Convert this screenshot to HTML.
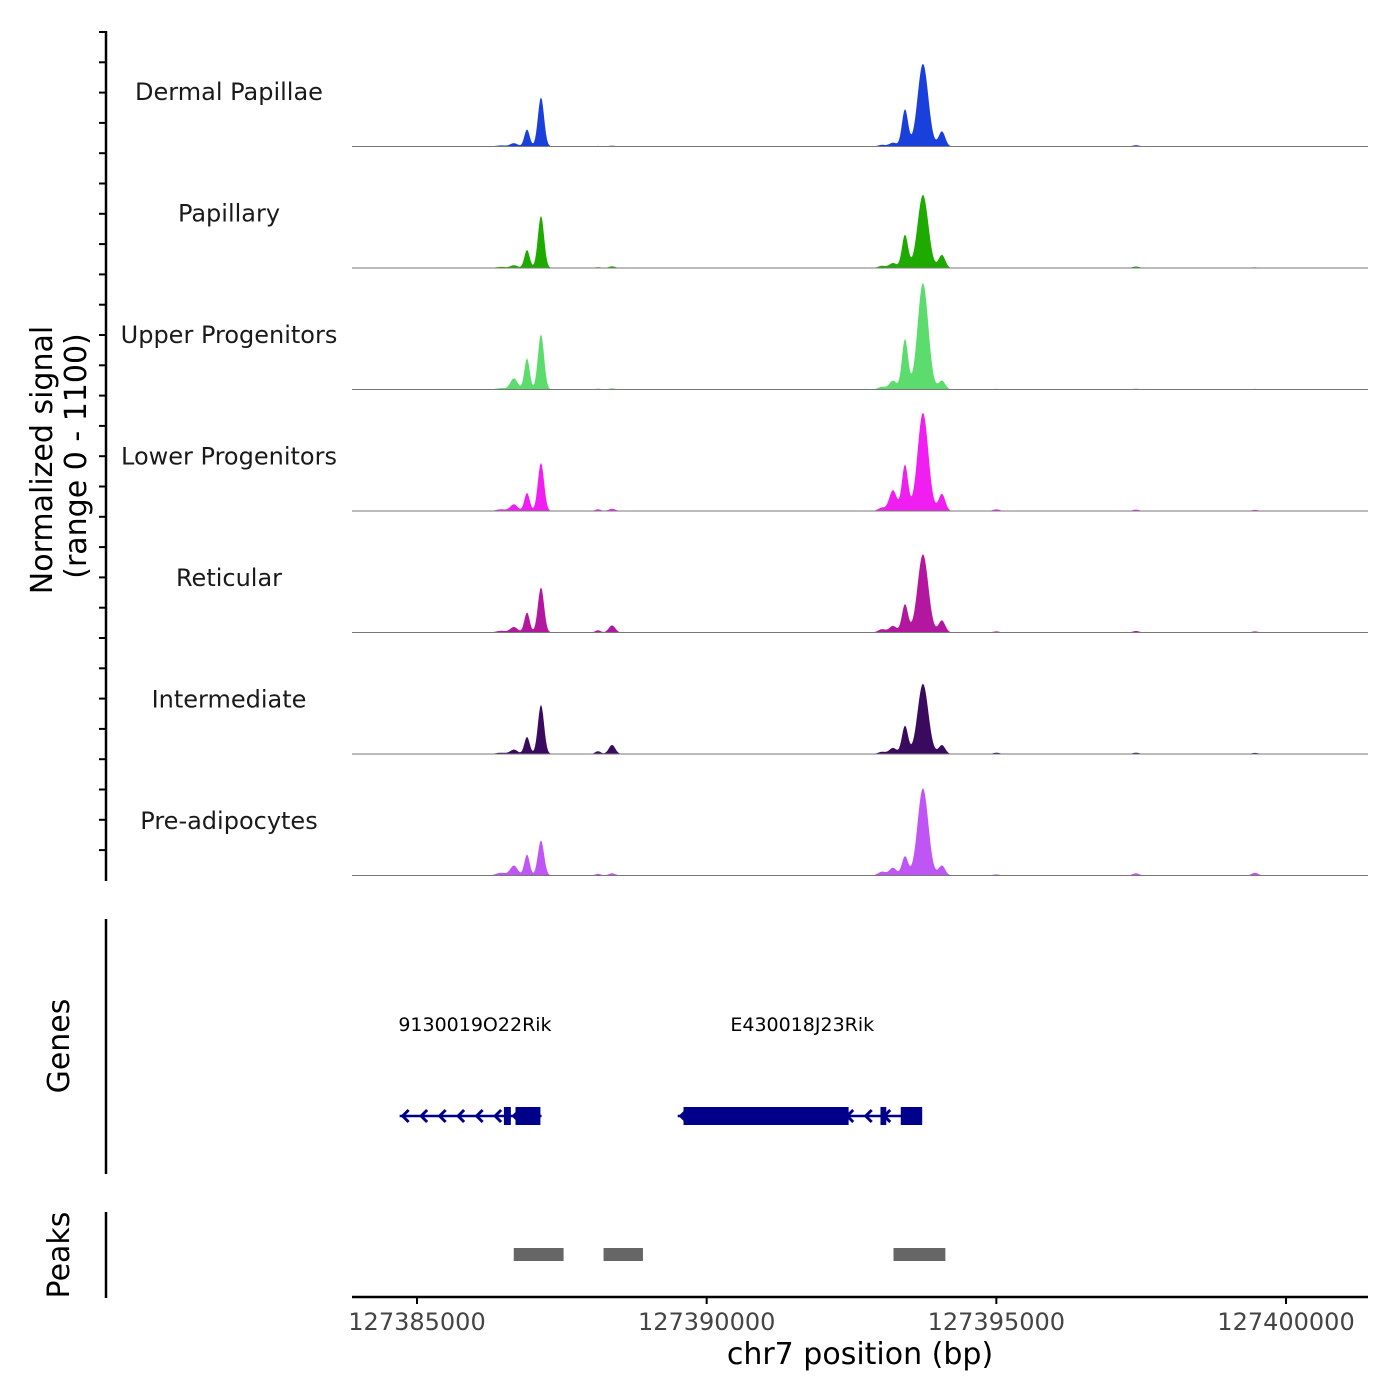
<!DOCTYPE html>
<html><head><meta charset="utf-8"><style>
body{margin:0;background:#fff}
svg{display:block;font-family:"DejaVu Sans","Liberation Sans",sans-serif}
</style></head><body>
<svg id="chart" width="1400" height="1400" viewBox="0 0 1400 1400">
<g id="tracks"></g>
<g>
<line x1="106" y1="31" x2="106" y2="881" stroke="#000" stroke-width="2.5"/>
<g id="lticks"></g>
<line x1="106" y1="919" x2="106" y2="1174" stroke="#000" stroke-width="2.5"/>
<line x1="106" y1="1212" x2="106" y2="1298" stroke="#000" stroke-width="2.5"/>
</g>
<text transform="translate(52,460) rotate(-90)" text-anchor="middle" font-size="30">Normalized signal</text>
<text transform="translate(86,456) rotate(-90)" text-anchor="middle" font-size="30">(range 0 - 1100)</text>
<text transform="translate(69,1046) rotate(-90)" text-anchor="middle" font-size="30">Genes</text>
<text transform="translate(69,1255) rotate(-90)" text-anchor="middle" font-size="30">Peaks</text>
<g id="genes"></g>
<g id="peaks"></g>
<g id="xaxis">
<line x1="352" y1="1297" x2="1368" y2="1297" stroke="#000" stroke-width="2.5"/>
</g>
<text x="860" y="1364" text-anchor="middle" font-size="30">chr7 position (bp)</text>
</svg>
<script>
const NS='http://www.w3.org/2000/svg';
const trackNames=['Dermal Papillae','Papillary','Upper Progenitors','Lower Progenitors','Reticular','Intermediate','Pre-adipocytes'];
const trackColors=['#1a40dc','#1faa00','#5cdc6c','#f01ef0','#b4179f','#3a0a5e','#c055f5'];
const peakPos=[127386450,127386674,127386899,127387140,127388124,127388366,127393025,127393216,127393423,127393733,127394061,127395000,127397410,127399463];
const peakWidth=[120,90,65,75,70,80,90,90,75,130,80,80,80,80];
const sigDermal=[10,30,155,445,5,8,15,35,336,750,136,4,12,4];
const sigPapillary=[10,25,164,473,8,15,20,45,300,663,118,4,14,6];
const sigUpper=[12,100,282,500,8,10,25,80,455,964,80,6,8,6];
const sigLower=[15,60,164,436,15,20,30,190,418,890,155,15,12,10];
const sigReticular=[15,50,182,409,20,64,30,60,255,709,109,10,14,10];
const sigIntermediate=[12,40,155,445,25,82,20,55,255,636,80,12,12,10];
const sigPreadipo=[25,90,190,318,15,20,35,70,173,790,90,10,20,25];
const signals=[sigDermal,sigPapillary,sigUpper,sigLower,sigReticular,sigIntermediate,sigPreadipo];
const xTicks=[127385000,127390000,127395000,127400000];
const geneLabels=['9130019O22Rik','E430018J23Rik'];
const geneLabelPos=[127386000,127391650];
const geneStart=[127384700,127389500];
const geneEnd=[127387150,127393600];
const exonStart=[127386500,127386700,127389600,127390850,127393000,127393350];
const exonEnd=[127386620,127387130,127391000,127392450,127393100,127393720];
const peakRegStart=[127386670,127388220,127393225];
const peakRegEnd=[127387530,127388900,127394120];
const X0=127383878,X1=127401415,PX0=352,PX1=1368;
const xs=v=>PX0+(v-X0)/(X1-X0)*(PX1-PX0);
const trackTop=25,trackH=121.5,YMAX=1100;
const ys=(i,v)=>trackTop+(i+1)*trackH-v/YMAX*trackH;
function el(t,a,p){const e=document.createElementNS(NS,t);for(const k in a)e.setAttribute(k,a[k]);p.appendChild(e);return e;}
const tg=document.getElementById('tracks');
signals.forEach((s,i)=>{
  const g=el('g',{},tg);
  
  
  let pts=[];
  for(let px=PX0;px<=PX1;px+=1){
    const bp=X0+(px-PX0)/(PX1-PX0)*(X1-X0);
    let v=0;
    peakPos.forEach((p,k)=>{const d=(bp-p)/peakWidth[k];v+=s[k]*Math.exp(-d*d);});
    pts.push(px+','+ys(i,v).toFixed(1));
  }
  const base=ys(i,0);
  const path=el('polygon',{points:PX0+','+base+' '+pts.join(' ')+' '+PX1+','+base,fill:trackColors[i]},g);
  
  
  const bl=el('line',{x1:PX0,x2:PX1,y1:base,y2:base,stroke:'#777','stroke-width':1},g);
  
  
  const lab=el('text',{x:229,y:trackTop+i*trackH+75,'text-anchor':'middle','font-size':24,fill:'#1a1a1a'},g);
  lab.textContent=trackNames[i];
  
  
});
const lt=document.getElementById('lticks');
for(let y=32;y<=880;y+=30.3){el('line',{x1:99,x2:106,y1:y,y2:y,stroke:'#000','stroke-width':2},lt);}
const gg=document.getElementById('genes');
const gy=1116,gc='#00008b';
geneStart.forEach((s,i)=>{
  const ln=el('line',{x1:xs(s),x2:xs(geneEnd[i]),y1:gy,y2:gy,stroke:gc,'stroke-width':2.5},gg);
  
  
  for(let x=xs(s)+3;x<xs(geneEnd[i])-25;x+=18.5){
    el('polyline',{points:(x+6)+','+(gy-6)+' '+x+','+gy+' '+(x+6)+','+(gy+6),fill:'none',stroke:gc,'stroke-width':3},gg);
  }
  const t=el('text',{x:xs(geneLabelPos[i]),y:1031,'text-anchor':'middle','font-size':19,fill:'#000'},gg);
  t.textContent=geneLabels[i];
  
  
});
exonStart.forEach((s,i)=>{
  const r=el('rect',{x:xs(s),y:gy-9,width:xs(exonEnd[i])-xs(s),height:18,fill:gc},gg);
  
  
});
const pg=document.getElementById('peaks');
peakRegStart.forEach((s,i)=>{
  const r=el('rect',{x:xs(s),y:1248,width:xs(peakRegEnd[i])-xs(s),height:13,fill:'#666'},pg);
  
  
});
const xa=document.getElementById('xaxis');
xTicks.forEach(v=>{
  el('line',{x1:xs(v),x2:xs(v),y1:1297,y2:1304,stroke:'#000','stroke-width':2},xa);
  const t=el('text',{x:xs(v),y:1330,'text-anchor':'middle','font-size':24,fill:'#444'},xa);
  t.textContent=v;
  
  
});
</script>
</body></html>
